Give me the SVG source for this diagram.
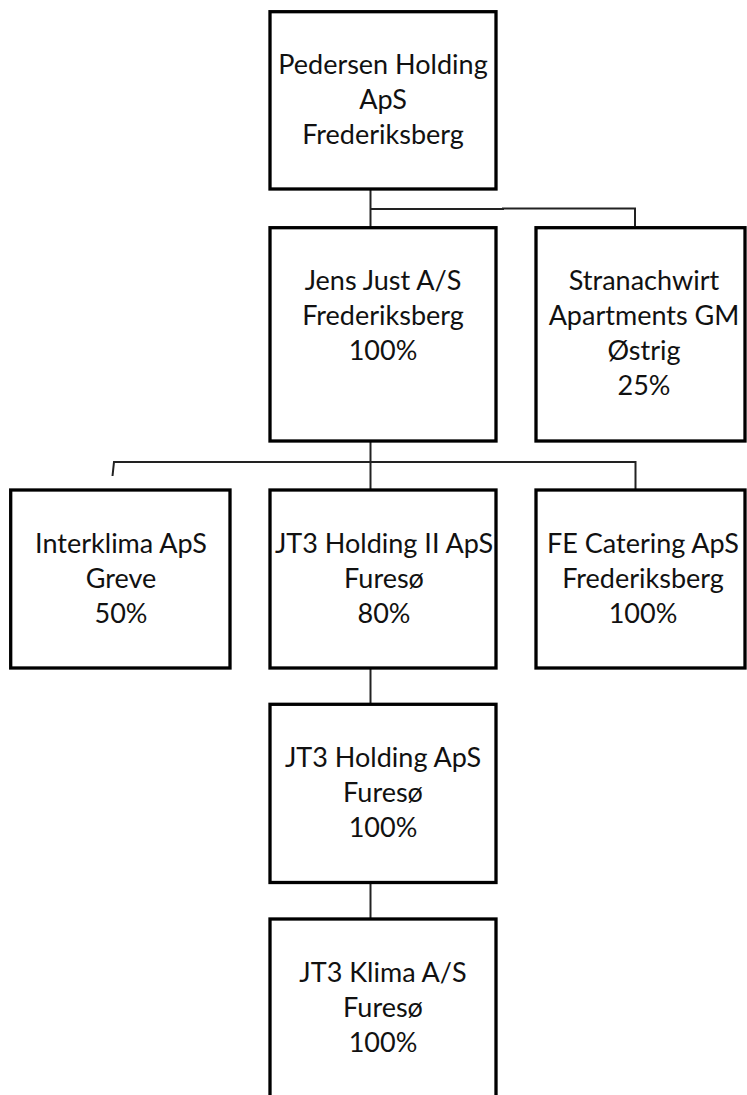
<svg xmlns="http://www.w3.org/2000/svg" width="747" height="1095" viewBox="0 0 747 1095">
<style>
.box{fill:#fff;stroke:#000;stroke-width:3.3}
.lbl{font-family:Lato,"Open Sans","Liberation Sans",sans-serif;font-size:27px;fill:#111;text-anchor:middle}
.con{fill:none;stroke:#222;stroke-width:2}
</style>
<rect width="747" height="1095" fill="#fff"/>
<g id="connectors">
<path class="con" d="M370.5 190 V227"/>
<path class="con" d="M370.5 209 H503 V208.5 H635 V226"/>
<path class="con" d="M370.5 442 V489"/>
<path class="con" d="M112.5 476 L114 462 H635.5 V489"/>
<path class="con" d="M370.5 669 V703"/>
<path class="con" d="M370.5 884 V918"/>
</g>
<g id="pedersen">
<rect class="box" x="270" y="11.7" width="226" height="177.3"/>
<text class="lbl" x="383" y="74">Pedersen Holding</text>
<text class="lbl" x="383" y="109">ApS</text>
<text class="lbl" x="383" y="144">Frederiksberg</text>
</g>
<g id="jensjust">
<rect class="box" x="270" y="227.7" width="226" height="213.3"/>
<text class="lbl" x="383" y="290">Jens Just A/S</text>
<text class="lbl" x="383" y="325">Frederiksberg</text>
<text class="lbl" x="383" y="360">100%</text>
</g>
<g id="stranachwirt">
<rect class="box" x="536" y="227.7" width="209" height="213.3"/>
<text class="lbl" x="644" y="290">Stranachwirt</text>
<text class="lbl" x="644" y="325">Apartments GM</text>
<text class="lbl" x="644" y="360">Østrig</text>
<text class="lbl" x="644" y="395">25%</text>
</g>
<g id="interklima">
<rect class="box" x="10.7" y="490" width="219.3" height="178"/>
<text class="lbl" x="121" y="553">Interklima ApS</text>
<text class="lbl" x="121" y="588">Greve</text>
<text class="lbl" x="121" y="623">50%</text>
</g>
<g id="jt3holdingii">
<rect class="box" x="270" y="490" width="226" height="178"/>
<text class="lbl" x="384" y="553">JT3 Holding II ApS</text>
<text class="lbl" x="384" y="588">Furesø</text>
<text class="lbl" x="384" y="623">80%</text>
</g>
<g id="fecatering">
<rect class="box" x="536" y="490" width="209" height="178"/>
<text class="lbl" x="643" y="553">FE Catering ApS</text>
<text class="lbl" x="643" y="588">Frederiksberg</text>
<text class="lbl" x="643" y="623">100%</text>
</g>
<g id="jt3holding">
<rect class="box" x="270" y="704.3" width="226" height="178.2"/>
<text class="lbl" x="383" y="767">JT3 Holding ApS</text>
<text class="lbl" x="383" y="802">Furesø</text>
<text class="lbl" x="383" y="837">100%</text>
</g>
<g id="jt3klima">
<rect class="box" x="270" y="919" width="226" height="190"/>
<text class="lbl" x="383" y="982">JT3 Klima A/S</text>
<text class="lbl" x="383" y="1017">Furesø</text>
<text class="lbl" x="383" y="1052">100%</text>
</g>
</svg>
